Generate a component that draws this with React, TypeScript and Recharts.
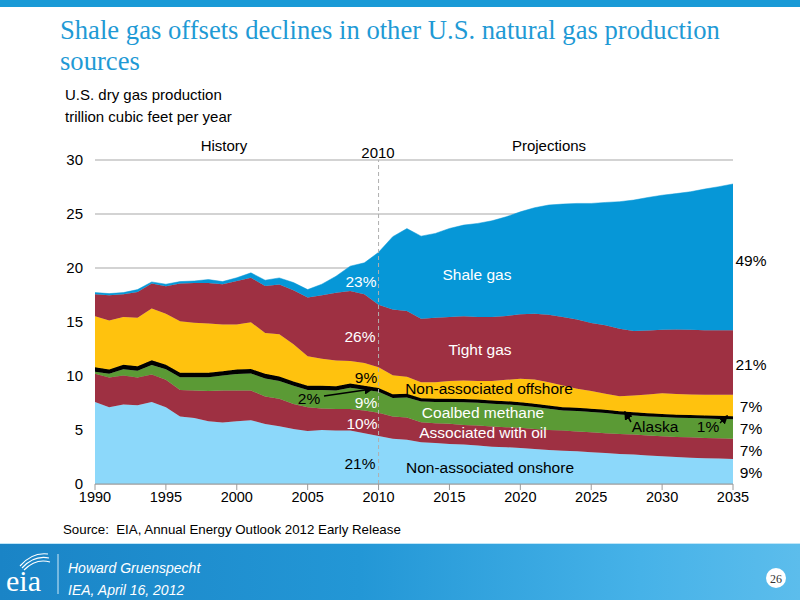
import React from "react";
import {
  AreaChart,
  Area,
  XAxis,
  YAxis,
  CartesianGrid,
  ReferenceLine,
} from "recharts";

// U.S. dry gas production by source, trillion cubic feet per year
const years = [
  1990, 1991, 1992, 1993, 1994, 1995, 1996, 1997, 1998, 1999, 2000, 2001,
  2002, 2003, 2004, 2005, 2006, 2007, 2008, 2009, 2010, 2011, 2012, 2013,
  2014, 2015, 2016, 2017, 2018, 2019, 2020, 2021, 2022, 2023, 2024, 2025,
  2026, 2027, 2028, 2029, 2030, 2031, 2032, 2033, 2034, 2035,
];

const onshore = [
  7.6, 7.1, 7.35, 7.3, 7.6, 7.1, 6.25, 6.1, 5.8, 5.7, 5.8, 5.9, 5.55, 5.35,
  5.1, 4.9, 5.0, 4.95, 4.95, 4.7, 4.45, 4.2, 4.1, 3.87, 3.8, 3.71, 3.65, 3.56,
  3.46, 3.4, 3.34, 3.25, 3.15, 3.09, 3.03, 2.94, 2.88, 2.78, 2.72, 2.63, 2.57,
  2.5, 2.44, 2.38, 2.35, 2.32,
];

const assocOil = [
  2.6, 2.75, 2.7, 2.55, 2.55, 2.55, 2.45, 2.55, 2.8, 2.95, 2.85, 2.75, 2.55,
  2.55, 2.3, 2.2, 2.0, 2.0, 2.0, 2.1, 2.15, 2.05, 2.05, 1.85, 1.83, 1.86, 1.82,
  1.85, 1.86, 1.86, 1.86, 1.85, 1.85, 1.86, 1.83, 1.85, 1.82, 1.86, 1.86, 1.85,
  1.85, 1.86, 1.89, 1.89, 1.89, 1.86,
];

const coalbed = [
  0.2, 0.35, 0.58, 0.63, 0.88, 0.98, 1.18, 1.23, 1.28, 1.4, 1.53, 1.58, 1.68,
  1.63, 1.7, 1.6, 1.7, 1.7, 1.97, 1.92, 1.94, 1.71, 1.87, 1.91, 1.96, 2.02,
  2.09, 2.12, 2.11, 2.11, 2.08, 2.02, 1.97, 1.86, 1.89, 1.87, 1.87, 1.8, 1.77,
  1.78, 1.78, 1.77, 1.79, 1.79, 1.79, 1.82,
];

const alaska = [
  0.4, 0.4, 0.42, 0.42, 0.42, 0.42, 0.42, 0.42, 0.42, 0.4, 0.42, 0.42, 0.42,
  0.42, 0.4, 0.4, 0.4, 0.4, 0.38, 0.38, 0.36, 0.34, 0.33, 0.32, 0.3, 0.3, 0.3,
  0.3, 0.3, 0.3, 0.3, 0.3, 0.3, 0.3, 0.3, 0.3, 0.3, 0.3, 0.3, 0.29, 0.29, 0.29,
  0.28, 0.28, 0.28, 0.28,
];

const offshore = [
  4.73, 4.55, 4.42, 4.5, 4.79, 4.72, 4.76, 4.64, 4.55, 4.33, 4.18, 4.32, 3.78,
  3.91, 3.43, 2.72, 2.5, 2.39, 2.08, 2.1, 1.9, 1.78, 1.58, 1.48, 1.54, 1.64,
  1.73, 1.7, 1.8, 1.98, 2.16, 2.26, 2.16, 2.01, 1.77, 1.64, 1.48, 1.39, 1.55,
  1.73, 1.91, 1.92, 1.89, 1.92, 1.95, 1.98,
];

const tight = [
  2.04, 2.33, 2.1, 2.38, 2.32, 2.54, 3.5, 3.68, 3.77, 3.72, 4.02, 4.13, 4.36,
  4.61, 5.01, 5.44, 5.88, 6.26, 6.5, 6.37, 5.8, 6.07, 6.09, 5.88, 5.97, 5.94,
  5.94, 5.94, 5.94, 5.91, 5.97, 6.09, 6.25, 6.35, 6.4, 6.31, 6.34, 6.25, 5.97,
  5.94, 5.88, 5.97, 6.0, 5.97, 5.97, 5.97,
];

const shale = [
  0.15, 0.15, 0.15, 0.22, 0.15, 0.19, 0.18, 0.18, 0.31, 0.24, 0.3, 0.45, 0.53,
  0.61, 0.71, 0.74, 1.02, 1.54, 2.29, 2.91, 4.85, 6.75, 7.63, 7.64, 7.8, 8.19,
  8.44, 8.66, 8.9, 9.18, 9.49, 9.81, 10.15, 10.45, 10.76, 11.07, 11.38, 11.76,
  12.12, 12.31, 12.46, 12.58, 12.77, 13.08, 13.3, 13.55,
];

const xTicks = [1990, 1995, 2000, 2005, 2010, 2015, 2020, 2025, 2030, 2035];
const yTicks = [0, 5, 10, 15, 20, 25, 30];

const rows = years.map((year, i) => ({
  year,
  onshore: onshore[i],
  assocOil: assocOil[i],
  coalbed: coalbed[i],
  alaska: alaska[i],
  offshore: offshore[i],
  tight: tight[i],
  shale: shale[i],
}));

const SANS = "'Liberation Sans', Arial, sans-serif";
const SERIF = "'Liberation Serif', 'Times New Roman', serif";

const layers = [
  { key: "onshore", color: "#8cd8fa" },
  { key: "assocOil", color: "#9e3042" },
  { key: "coalbed", color: "#5b9a35" },
  { key: "alaska", color: "#000000" },
  { key: "offshore", color: "#ffc20e" },
  { key: "tight", color: "#9e3042" },
  { key: "shale", color: "#0697d7" },
];

// text labels drawn on top of the plot
function Annotations() {
  const t = { fontFamily: SANS, fontSize: 15.5 };
  return (
    <svg
      width={800}
      height={600}
      style={{ position: "absolute", left: 0, top: 0, pointerEvents: "none" }}
    >
      <defs>
        <marker id="ah" markerWidth="6" markerHeight="6" refX="5" refY="3" orient="auto">
          <path d="M0,0 L6,3 L0,6 z" fill="#000" />
        </marker>
      </defs>
      <g style={t} textAnchor="middle">
        <text x={224} y={151} fontSize={15}>History</text>
        <text x={378} y={158} fontSize={15}>2010</text>
        <text x={549} y={151} fontSize={15}>Projections</text>

        <text x={361} y={287} fill="#fff">23%</text>
        <text x={360} y={342} fill="#fff">26%</text>
        <text x={366} y={383}>9%</text>
        <text x={309} y={404}>2%</text>
        <text x={366} y={408} fill="#fff">9%</text>
        <text x={362} y={429} fill="#fff">10%</text>
        <text x={360} y={469}>21%</text>

        <text x={477} y={280} fill="#fff">Shale gas</text>
        <text x={480} y={355} fill="#fff">Tight gas</text>
        <text x={489} y={394}>Non-associated offshore</text>
        <text x={483} y={418} fill="#fff">Coalbed methane</text>
        <text x={483} y={438} fill="#fff">Associated with oil</text>
        <text x={490} y={473}>Non-associated onshore</text>
        <text x={655} y={432}>Alaska</text>
        <text x={708} y={432}>1%</text>

        <text x={751} y={266}>49%</text>
        <text x={751} y={370}>21%</text>
        <text x={751} y={412}>7%</text>
        <text x={751} y={434}>7%</text>
        <text x={751} y={456}>7%</text>
        <text x={751} y={478}>9%</text>
      </g>
      <line x1={324} y1={396} x2={372} y2={389} stroke="#000" strokeWidth={1.5} markerEnd="url(#ah)" />
      <line x1={631} y1={422} x2={625} y2={412} stroke="#000" strokeWidth={1.5} markerEnd="url(#ah)" />
      <line x1={720} y1={423} x2={727} y2={416} stroke="#000" strokeWidth={1.5} markerEnd="url(#ah)" />
    </svg>
  );
}

function Footer() {
  return (
    <div
      style={{
        position: "absolute",
        left: 0,
        top: 543,
        width: 800,
        height: 57,
        background: "linear-gradient(90deg, #1a84c6 0%, #2397d6 45%, #46b2e8 80%, #5cbdec 100%)",
        borderTop: "1px solid #bfe6f8",
      }}
    >
      <svg width={800} height={57} style={{ position: "absolute", left: 0, top: 0 }}>
        <path d="M20,22 Q32,8 48,10" stroke="#fff" strokeWidth={1.2} fill="none" />
        <path d="M22,24 Q34,11 49,14" stroke="#fff" strokeWidth={1.2} fill="none" />
        <path d="M24,26 Q36,14 50,18" stroke="#fff" strokeWidth={1.2} fill="none" />
        <text x={6} y={47} fill="#fff" fontFamily={SERIF} fontSize={30}>eia</text>
        <line x1={58} y1={10} x2={58} y2={50} stroke="#cfeaf8" strokeWidth={1} />
        <text x={68} y={29} fill="#fff" fontFamily={SANS} fontSize={14} fontStyle="italic">
          Howard Gruenspecht
        </text>
        <text x={68} y={51} fill="#fff" fontFamily={SANS} fontSize={14} fontStyle="italic">
          IEA, April 16, 2012
        </text>
        <circle cx={776} cy={34} r={10} fill="#fff" />
        <text x={776} y={38.5} textAnchor="middle" fontFamily={SERIF} fontSize={12} fill="#333">
          26
        </text>
      </svg>
    </div>
  );
}

export default function App() {
  return (
    <div
      style={{
        position: "absolute",
        left: 0,
        top: 0,
        width: 800,
        height: 600,
        background: "#fff",
        overflow: "hidden",
      }}
    >
      <div style={{ position: "absolute", left: 0, top: 0, width: 800, height: 7, background: "#1a9ad6" }} />
      <div
        style={{
          position: "absolute",
          left: 60,
          top: 14,
          width: 760,
          fontFamily: SERIF,
          fontSize: 28,
          lineHeight: "31px",
          color: "#1f9ad5",
          transform: "scaleX(0.951)",
          transformOrigin: "left top",
        }}
      >
        Shale gas offsets declines in other U.S. natural gas production
        <br />
        sources
      </div>
      <div
        style={{
          position: "absolute",
          left: 65,
          top: 84,
          fontFamily: SANS,
          fontSize: 15,
          lineHeight: "22px",
          color: "#000",
        }}
      >
        U.S. dry gas production
        <br />
        trillion cubic feet per year
      </div>

      <div style={{ position: "absolute", left: 0, top: 0 }}>
        <AreaChart
          width={800}
          height={600}
          data={rows}
          margin={{ top: 160, right: 67, left: 0, bottom: 86 }}
        >
          <CartesianGrid vertical={false} stroke="#c4c4c4" strokeWidth={1.5} />
          <XAxis
            type="number"
            dataKey="year"
            domain={[1990, 2035]}
            ticks={xTicks}
            height={30}
            stroke="#9a9a9a"
            tick={{ fontSize: 14.5, fill: "#000", fontFamily: SANS }}
            tickLine={{ stroke: "#9a9a9a" }}
            interval={0}
          />
          <YAxis
            type="number"
            domain={[0, 30]}
            ticks={yTicks}
            width={95}
            axisLine={false}
            tickLine={false}
            tickMargin={6}
            tick={{ fontSize: 15, fill: "#000", fontFamily: SANS }}
            interval={0}
          />
          {layers.map((l) => (
            <Area
              key={l.key}
              type="linear"
              dataKey={l.key}
              stackId="gas"
              stroke={l.color}
              strokeWidth={l.key === "alaska" ? 1 : 0.5}
              fill={l.color}
              fillOpacity={1}
              dot={false}
              activeDot={false}
              isAnimationActive={false}
            />
          ))}
          <ReferenceLine x={2010} stroke="#b0b0b0" strokeDasharray="4 3" strokeWidth={1} />
        </AreaChart>
      </div>

      <Annotations />

      <div
        style={{
          position: "absolute",
          left: 63,
          top: 522,
          fontFamily: SANS,
          fontSize: 13.3,
          color: "#000",
          whiteSpace: "pre",
        }}
      >
        {"Source:  EIA, Annual Energy Outlook 2012 Early Release"}
      </div>

      <Footer />
    </div>
  );
}
